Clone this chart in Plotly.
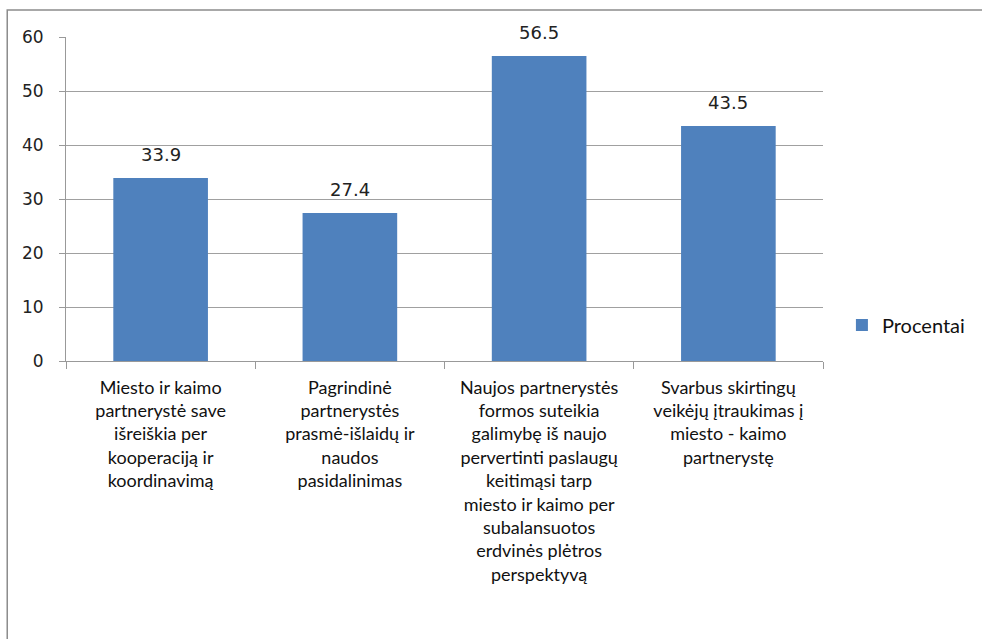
import plotly.graph_objects as go

categories = [
    "Miesto ir kaimo<br>partnerystė save<br>išreiškia per<br>kooperaciją ir<br>koordinavimą",
    "Pagrindinė<br>partnerystės<br>prasmė-išlaidų ir<br>naudos<br>pasidalinimas",
    "Naujos partnerystės<br>formos suteikia<br>galimybę iš naujo<br>pervertinti paslaugų<br>keitimąsi tarp<br>miesto ir kaimo per<br>subalansuotos<br>erdvinės plėtros<br>perspektyvą",
    "Svarbus skirtingų<br>veikėjų įtraukimas į<br>miesto - kaimo<br>partnerystę",
]
values = [33.9, 27.4, 56.5, 43.5]
series_name = "Procentai"
y_ticks = [0, 10, 20, 30, 40, 50, 60]

cat_font = "Lato, sans-serif"
num_font = "DejaVu Sans, sans-serif"

fig = go.Figure()
fig.add_trace(go.Bar(
    x=categories, y=values, name=series_name,
    marker=dict(color="#4F81BD", line=dict(width=0)),
    width=0.5,
))

for c, v in zip(categories, values):
    fig.add_annotation(x=c, y=v, text=f"{v:.1f}", showarrow=False,
                       yanchor="bottom", yshift=11,
                       font=dict(family=num_font, size=18, color="#222222"))

L, R, T, B = 66, 156, 37, 278
W, H = 982, 639
pw, ph = W - L - R, H - T - B

fig.update_layout(
    width=W, height=H,
    margin=dict(l=L, r=R, t=T, b=B, pad=0),
    paper_bgcolor="white", plot_bgcolor="white",
    showlegend=True,
    legend=dict(x=(845 - L) / pw, y=(H - B - 325) / ph, xanchor="left", yanchor="middle",
                font=dict(family=cat_font, size=20, color="#111111"),
                itemwidth=30),
    xaxis=dict(
        showline=True, linecolor="#999999", linewidth=1,
        ticks="outside", tickson="boundaries", ticklen=7, tickcolor="#999999",
        tickfont=dict(family=cat_font, size=18, color="#111111"),
        ticklabelstandoff=10,
        tickangle=0, showgrid=False,
    ),
    yaxis=dict(
        range=[0, 60], tickvals=y_ticks,
        showline=True, linecolor="#999999", linewidth=1,
        ticks="outside", ticklen=6, tickcolor="#999999",
        ticklabelstandoff=12,
        showgrid=True, gridcolor="#a0a0a0", gridwidth=1,
        tickfont=dict(family=num_font, size=17, color="#222222"),
        zeroline=False,
    ),
    shapes=[dict(type="rect", xref="paper", yref="paper",
                 x0=(7 - L) / pw, x1=(W + 5 - L) / pw,
                 y0=-(H + 5 - T - ph) / ph, y1=1 + (T - 10) / ph,
                 line=dict(color="#8c8c8c", width=1.5), layer="below")],
)

fig.write_html("out.html", config={"displayModeBar": False},
               post_script="document.body.style.margin='0';")
